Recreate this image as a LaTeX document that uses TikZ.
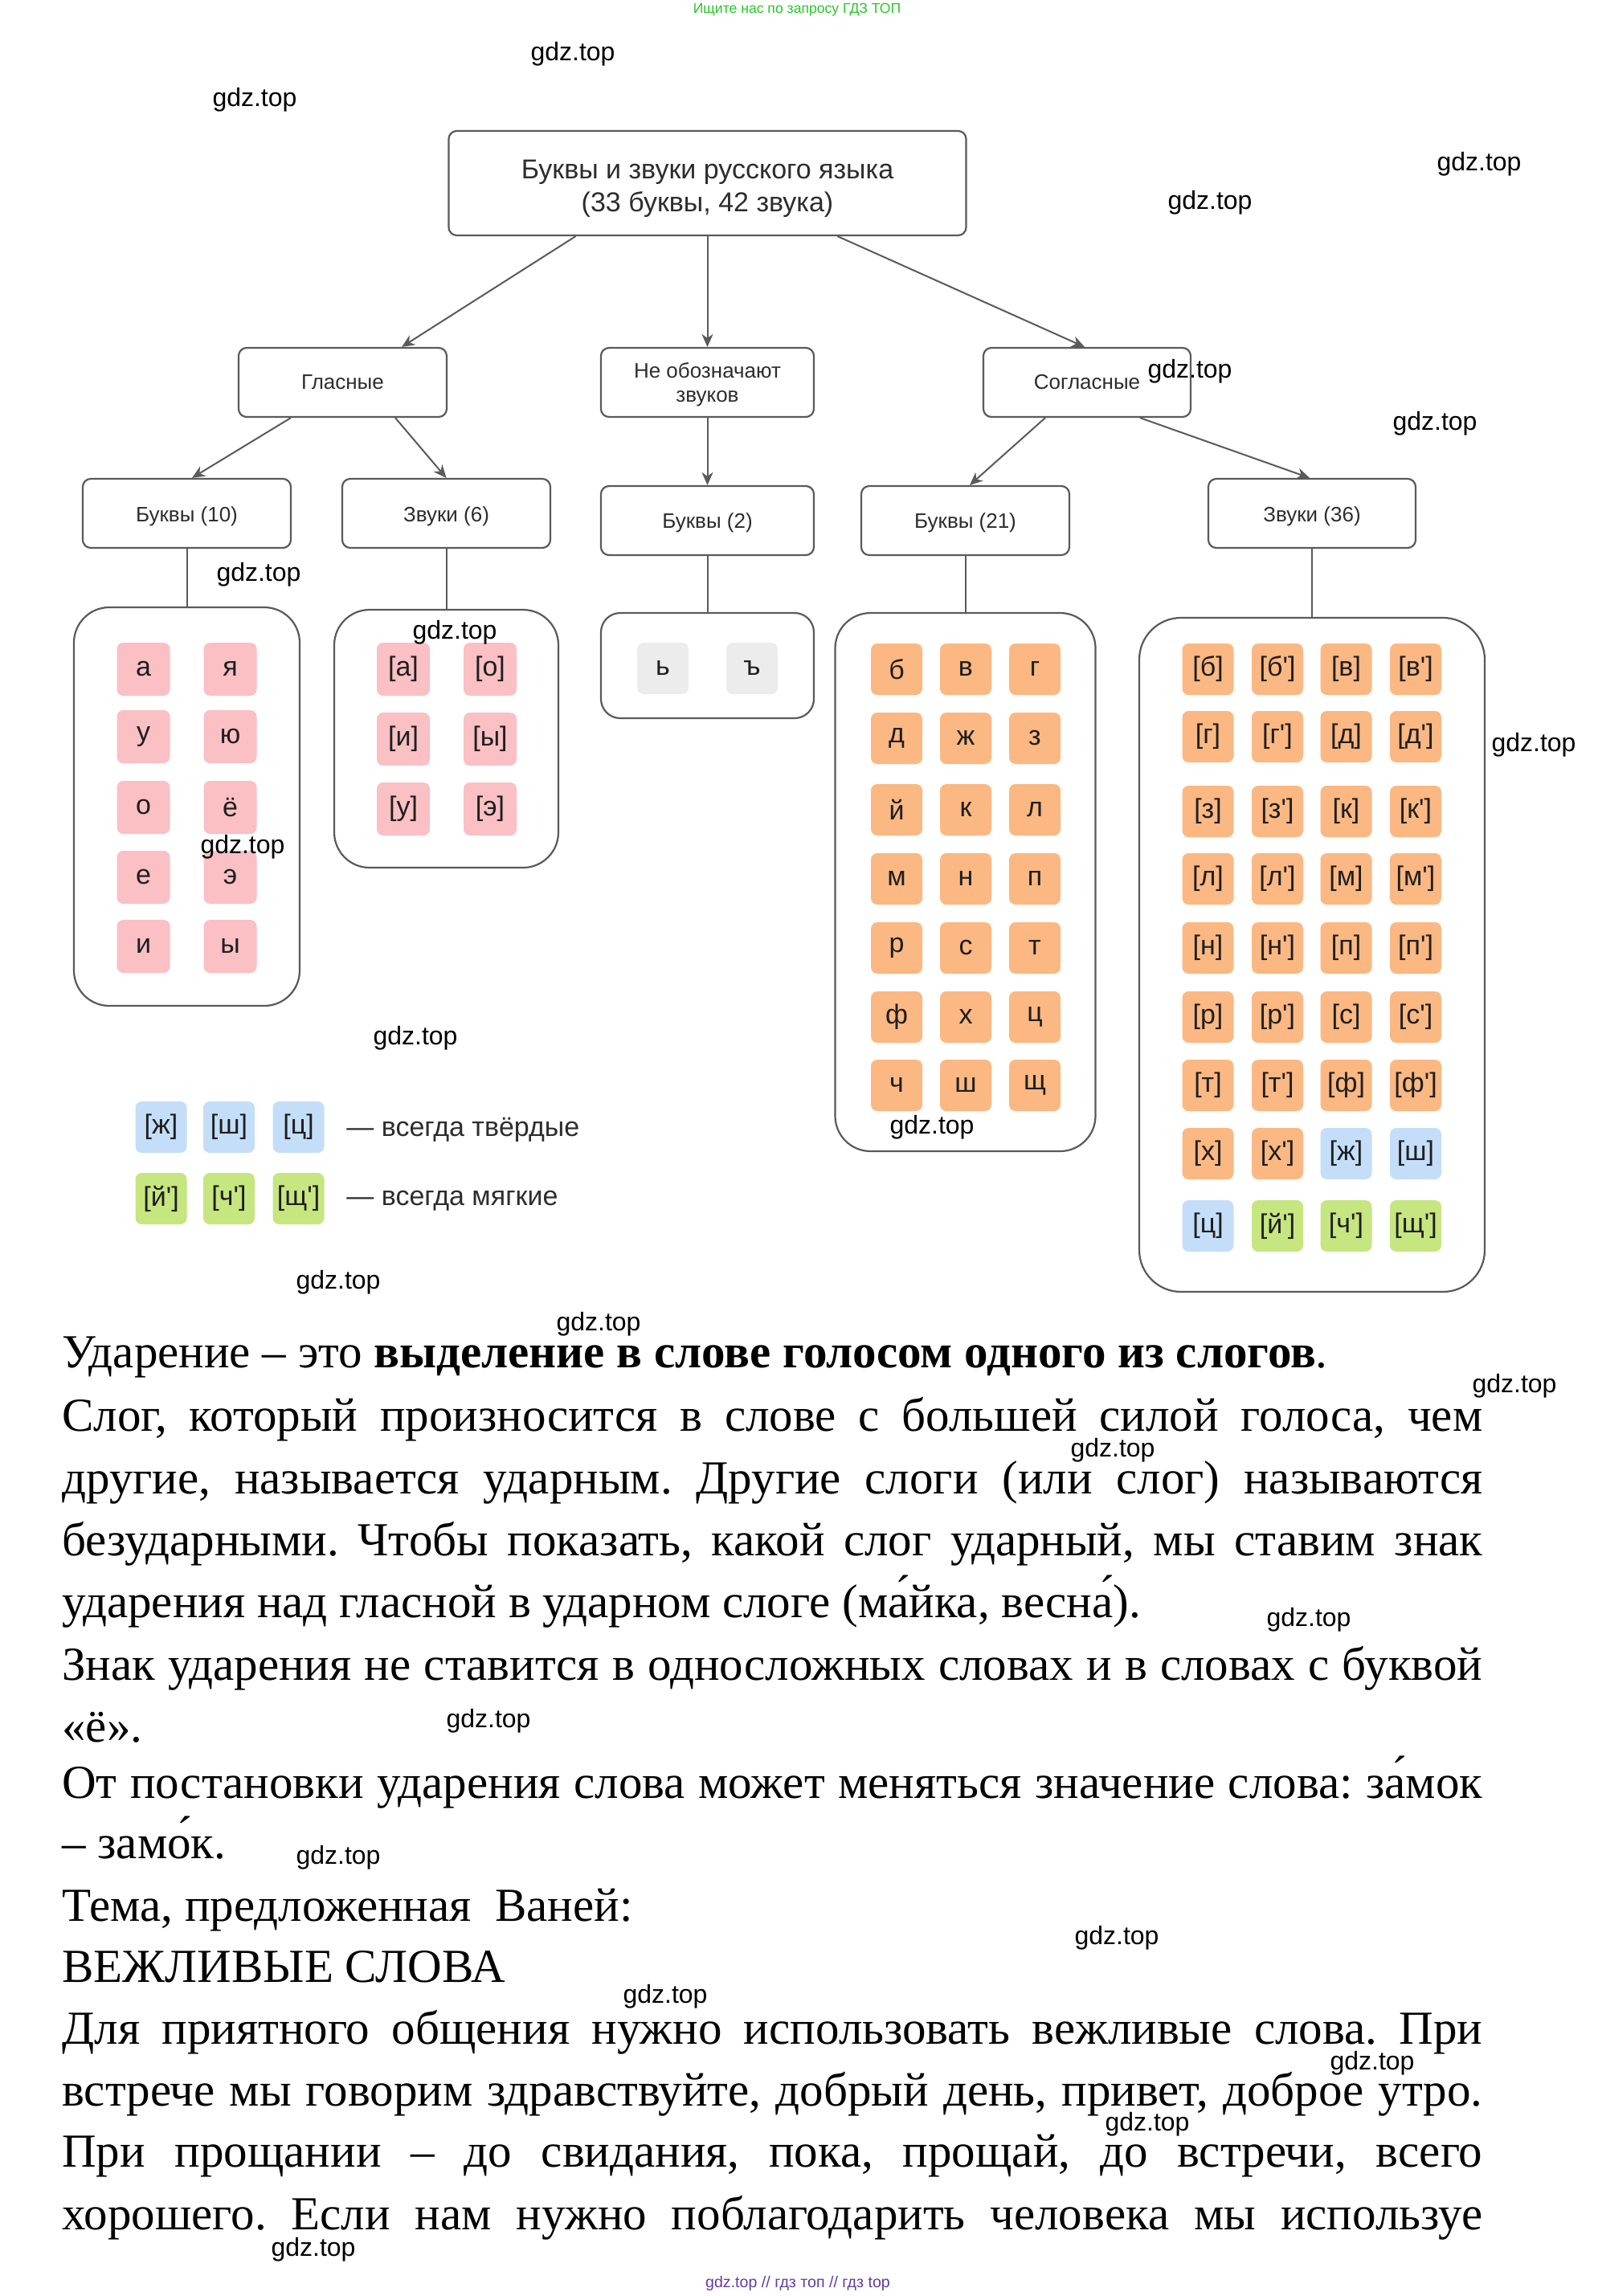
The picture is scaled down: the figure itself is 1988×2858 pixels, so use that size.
\documentclass[tikz,border=0pt]{standalone}
\usepackage{fontspec}
\setmainfont{Liberation Serif}
\newfontfamily\dsans[Ligatures=TeXOff]{Liberation Sans}
\usetikzlibrary{arrows.meta,calc}
\definecolor{pinkc}{RGB}{250,192,196}
\definecolor{orangec}{RGB}{252,184,130}
\definecolor{bluec}{RGB}{196,222,250}
\definecolor{greenc}{RGB}{198,230,128}
\definecolor{greyc}{RGB}{236,236,236}
\definecolor{edgec}{RGB}{90,90,90}
\definecolor{labelc}{RGB}{45,45,45}
\definecolor{wmgreen}{RGB}{40,200,40}
\definecolor{wmpurple}{RGB}{100,60,160}
\newcommand{\myjust}[1]{\hbox to 884pt{#1}}
\newcommand{\lowerby}[2]{\raisebox{-#1}[\height][\depth]{#2}}
\frenchspacing
\begin{document}
\begin{tikzpicture}[x=0.5pt,y=-0.5pt,
  box/.style={draw=edgec, line width=1.1pt, rounded corners=5pt, fill=white,
    font=\dsans\fontsize{13}{15}\selectfont, text=labelc, inner sep=0pt, align=center},
  cont/.style={draw=edgec, line width=1.1pt, rounded corners=22pt, fill=white, inner sep=0pt},
  tile/.style={fill=#1, rounded corners=4pt, minimum width=32pt, minimum height=32pt,
    inner sep=0pt, font=\dsans\fontsize{17}{20}\selectfont, text=black!88},
  conn/.style={draw=edgec, line width=1pt},
  arr/.style={conn, -{Stealth[length=8pt,width=7pt,inset=2.5pt]}},
  wm/.style={font=\dsans\fontsize{16}{18}\selectfont, inner sep=0pt},
  body/.style={anchor=base west, inner sep=0pt, font=\fontsize{29.5}{34}\selectfont}
]
\useasboundingbox (0,0) rectangle (1988,2858);
\fill[white] (0,0) rectangle (1988,2858);

% ---- tree boxes ----
\node[box, minimum width=322pt, minimum height=65pt, font=\dsans\fontsize{17}{20.5}\selectfont] (title) at (880.5,228) {\lowerby{3.2pt}{\begin{tabular}{@{}c@{}}Буквы и звуки русского языка\\(33 буквы, 42 звука)\end{tabular}}};
\node[box, minimum width=129.5pt, minimum height=43pt] (gl) at (426.5,476) {Гласные};
\node[box, minimum width=132.5pt, minimum height=43pt] (ne) at (880.5,476) {\lowerby{1.8pt}{\begin{tabular}{@{}c@{}}Не обозначают\\звуков\end{tabular}}};
\node[box, minimum width=129pt, minimum height=43pt] (sog) at (1353,476) {Согласные};
\node[box, minimum width=129.5pt, minimum height=43pt] (b10) at (232.5,639) {\lowerby{1.8pt}{Буквы (10)}};
\node[box, minimum width=129.5pt, minimum height=43pt] (z6) at (555.5,639) {\lowerby{1.8pt}{Звуки (6)}};
\node[box, minimum width=132.5pt, minimum height=43pt] (b2) at (880.5,648) {\lowerby{1.5pt}{Буквы (2)}};
\node[box, minimum width=129.5pt, minimum height=43pt] (b21) at (1201.5,648) {\lowerby{1.5pt}{Буквы (21)}};
\node[box, minimum width=129pt, minimum height=43pt] (z36) at (1633,639) {\lowerby{1.8pt}{Звуки (36)}};

% ---- containers ----
\node[cont, minimum width=140.5pt, minimum height=248pt] (c1) at (232.5,1004) {};
\node[cont, minimum width=139.5pt, minimum height=160.5pt] (c2) at (555.5,919.5) {};
\node[cont, rounded corners=12pt, minimum width=132.5pt, minimum height=65.5pt] (c3) at (880.5,828.5) {};
\node[cont, minimum width=162pt, minimum height=335pt] (c4) at (1201.5,1098) {};
\node[cont, rounded corners=26pt, minimum width=215pt, minimum height=419.5pt] (c5) at (1633,1188.5) {};

% ---- connectors ----
\draw[arr] ([xshift=-82pt]title.south) -- ([xshift=36.75pt]gl.north);
\draw[arr] (title.south) -- (ne.north);
\draw[arr] ([xshift=81pt]title.south) -- ([xshift=-1.5pt]sog.north);
\draw[arr] ([xshift=-32.25pt]gl.south) -- ([xshift=3.25pt]b10.north);
\draw[arr] ([xshift=32.75pt]gl.south) -- (z6.north);
\draw[arr] (ne.south) -- (b2.north);
\draw[arr] ([xshift=-26pt]sog.south) -- ([xshift=2.75pt]b21.north);
\draw[arr] ([xshift=33pt]sog.south) -- ([xshift=-1.5pt]z36.north);
\draw[conn] (b10.south) -- (c1.north);
\draw[conn] (z6.south) -- (c2.north);
\draw[conn] (b2.south) -- (c3.north);
\draw[conn] (b21.south) -- (c4.north);
\draw[conn] (z36.south) -- (c5.north);

% ---- vowel letters ----
\foreach \r/\a/\b [count=\i] in {833/а/я, 917/у/ю, 1005/о/ё, 1092/е/э, 1178/и/ы} {
  \node[tile=pinkc, minimum width=33pt, minimum height=33pt] (va\i) at (178.5,\r) {\a};
  \node[tile=pinkc, minimum width=33pt, minimum height=33pt] (vb\i) at (286.5,\r) {\b};
}
% ---- vowel sounds ----
\foreach \r/\a/\b [count=\i] in {833/а/о, 920/и/ы, 1007/у/э} {
  \node[tile=pinkc, minimum width=33pt, minimum height=33pt] (sa\i) at (502,\r) {[\a]};
  \node[tile=pinkc, minimum width=33pt, minimum height=33pt] (sb\i) at (610,\r) {[\b]};
}
% ---- soft / hard signs ----
\node[tile=greyc] (zn1) at (825,832) {ь};
\node[tile=greyc] (zn2) at (936,832) {ъ};

% ---- consonant letters ----
\foreach \r/\a/\b/\c [count=\i] in {833/б/в/г, 919/д/ж/з, 1008/й/к/л, 1094/м/н/п, 1180/р/с/т, 1266/ф/х/ц, 1351/ч/ш/щ} {
  \node[tile=orangec] (ka\i) at (1116,\r) {\a};
  \node[tile=orangec] (kb\i) at (1202,\r) {\b};
  \node[tile=orangec] (kc\i) at (1288,\r) {\c};
}
% ---- consonant sounds ----
\foreach \r/\a/\b/\c/\d [count=\i] in {833/б/б'/в/в', 917/г/г'/д/д', 1010/з/з'/к/к', 1094/л/л'/м/м', 1180/н/н'/п/п', 1266/р/р'/с/с', 1351/т/т'/ф/ф'} {
  \node[tile=orangec] (ma\i) at (1503.5,\r) {[\a]};
  \node[tile=orangec] (mb\i) at (1590,\r) {[\b]};
  \node[tile=orangec] (mc\i) at (1675.5,\r) {[\c]};
  \node[tile=orangec] (md\i) at (1762,\r) {[\d]};
}
\node[tile=orangec] (ma8) at (1503.5,1436) {[х]};
\node[tile=orangec] (mb8) at (1590,1436) {[х']};
\node[tile=bluec] (mc8) at (1675.5,1436) {[ж]};
\node[tile=bluec] (md8) at (1762,1436) {[ш]};
\node[tile=bluec] (ma9) at (1503.5,1526) {[ц]};
\node[tile=greenc] (mb9) at (1590,1526) {[й']};
\node[tile=greenc] (mc9) at (1675.5,1526) {[ч']};
\node[tile=greenc] (md9) at (1762,1526) {[щ']};

% ---- legend ----
\node[tile=bluec] (lb1) at (200.5,1403) {[ж]};
\node[tile=bluec] (lb2) at (285,1403) {[ш]};
\node[tile=bluec] (lb3) at (371.5,1403) {[ц]};
\node[tile=greenc] (lg1) at (200.5,1492) {[й']};
\node[tile=greenc] (lg2) at (285,1492) {[ч']};
\node[tile=greenc] (lg3) at (371.5,1492) {[щ']};
\node[anchor=west, inner sep=0pt, font=\dsans\fontsize{17}{20}\selectfont, text=labelc] (lt1) at (431,1406) {— всегда твёрдые};
\node[anchor=west, inner sep=0pt, font=\dsans\fontsize{17}{20}\selectfont, text=labelc] (lt2) at (431,1495) {— всегда мягкие};

% ---- body text ----
\node[body] (t1) at (77,1702) {Ударение – это \textbf{выделение в слове голосом одного из слогов}.};
\node[body] (t2) at (77,1781) {\myjust{Слог, который произносится в слове с большей силой голоса, чем}};
\node[body] (t3) at (77,1859) {\myjust{другие, называется ударным. Другие слоги (или слог) называются}};
\node[body] (t4) at (77,1936) {\myjust{безударными. Чтобы показать, какой слог ударный, мы ставим знак}};
\node[body] (t5) at (77,2013) {ударения над гласной в ударном слоге (ма́йка, весна́).};
\node[body] (t6) at (77,2091) {\myjust{Знак ударения не ставится в односложных словах и в словах с буквой}};
\node[body] (t7) at (77,2168) {«ё».};
\node[body] (t8) at (77,2238) {\myjust{От постановки ударения слова может меняться значение слова: за́мок}};
\node[body] (t9) at (77,2313) {– замо́к.};
\node[body] (t10) at (77,2391) {Тема, предложенная\ \ Ваней:};
\node[body] (t11) at (77,2467) {ВЕЖЛИВЫЕ СЛОВА};
\node[body] (t12) at (77,2544) {\myjust{Для приятного общения нужно использовать вежливые слова. При}};
\node[body] (t13) at (77,2621) {\myjust{встрече мы говорим здравствуйте, добрый день, привет, доброе утро.}};
\node[body] (t14) at (77,2697) {\myjust{При прощании – до свидания, пока, прощай, до встречи, всего}};
\node[body] (t15) at (77,2775) {\myjust{хорошего. Если нам нужно поблагодарить человека мы используе}};

% ---- watermarks ----
\foreach \x/\y [count=\i] in {713/67, 317/124, 1841/204, 1506/252, 1481/462, 1786/527, 322/715, 566/787, 302/1054, 1909/927, 517/1292, 1160/1403, 421/1596, 745/1648, 1885/1725, 1385/1805, 1629/2016, 608/2142, 421/2312, 1390/2412, 828/2485, 1708/2568, 1428/2644, 390/2800} {
  \node[wm] (wm\i) at (\x,\y) {gdz.top};
}
\node[font=\dsans\fontsize{8.8}{11}\selectfont, text=wmgreen, inner sep=0pt] (top) at (992,12) {Ищите нас по запросу ГДЗ ТОП};
\node[font=\dsans\fontsize{9.8}{11}\selectfont, text=wmpurple, inner sep=0pt] (bot) at (993,2842) {gdz.top // гдз топ // гдз top};
\end{tikzpicture}
\end{document}
